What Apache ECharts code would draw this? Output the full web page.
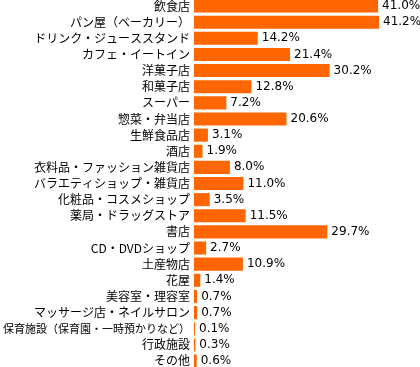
<!DOCTYPE html>
<html><head><meta charset="utf-8">
<script src="https://cdn.jsdelivr.net/npm/echarts@6/dist/echarts.min.js"></script>
<style>html,body{margin:0;padding:0;background:#fff}#c{width:420px;height:367px}</style>
</head><body><div id="c"></div>
<script>
const categories = ["飲食店","パン屋（ベーカリー）","ドリンク・ジューススタンド","カフェ・イートイン","洋菓子店","和菓子店","スーパー","惣菜・弁当店","生鮮食品店","酒店","衣料品・ファッション雑貨店","バラエティショップ・雑貨店","化粧品・コスメショップ","薬局・ドラッグストア","書店","CD・DVDショップ","土産物店","花屋","美容室・理容室","マッサージ店・ネイルサロン","保育施設（保育園・一時預かりなど）","行政施設","その他"];
const values = [41.0,41.2,14.2,21.4,30.2,12.8,7.2,20.6,3.1,1.9,8.0,11.0,3.5,11.5,29.7,2.7,10.9,1.4,0.7,0.7,0.1,0.3,0.6];
const chart = echarts.init(document.getElementById('c'));
chart.setOption({
  animation:false,
  grid:{left:194,right:41,top:-2,bottom:-2,containLabel:false,outerBoundsMode:'none'},
  xAxis:{type:'value',min:0,max:41.2,show:false},
  yAxis:{type:'category',data:categories,inverse:true,
    axisLine:{show:false},axisTick:{show:false},
    axisLabel:{margin:4,color:'#000',fontSize:12,fontFamily:'"Noto Sans CJK JP", sans-serif',
      formatter:v=>v.length>15?'{s|'+v+'}':v,
      rich:{s:{fontSize:11,color:'#000',fontFamily:'"Noto Sans CJK JP", sans-serif'}}}},
  series:[{type:'bar',data:values,barCategoryGap:'19%',barMinHeight:1,
    itemStyle:{color:'#FF6600'},
    label:{show:true,position:'right',distance:4,color:'#000',fontSize:12,
      fontFamily:'"DejaVu Sans", sans-serif',formatter:p=>p.value.toFixed(1)+'%'}}]
});
</script></body></html>
